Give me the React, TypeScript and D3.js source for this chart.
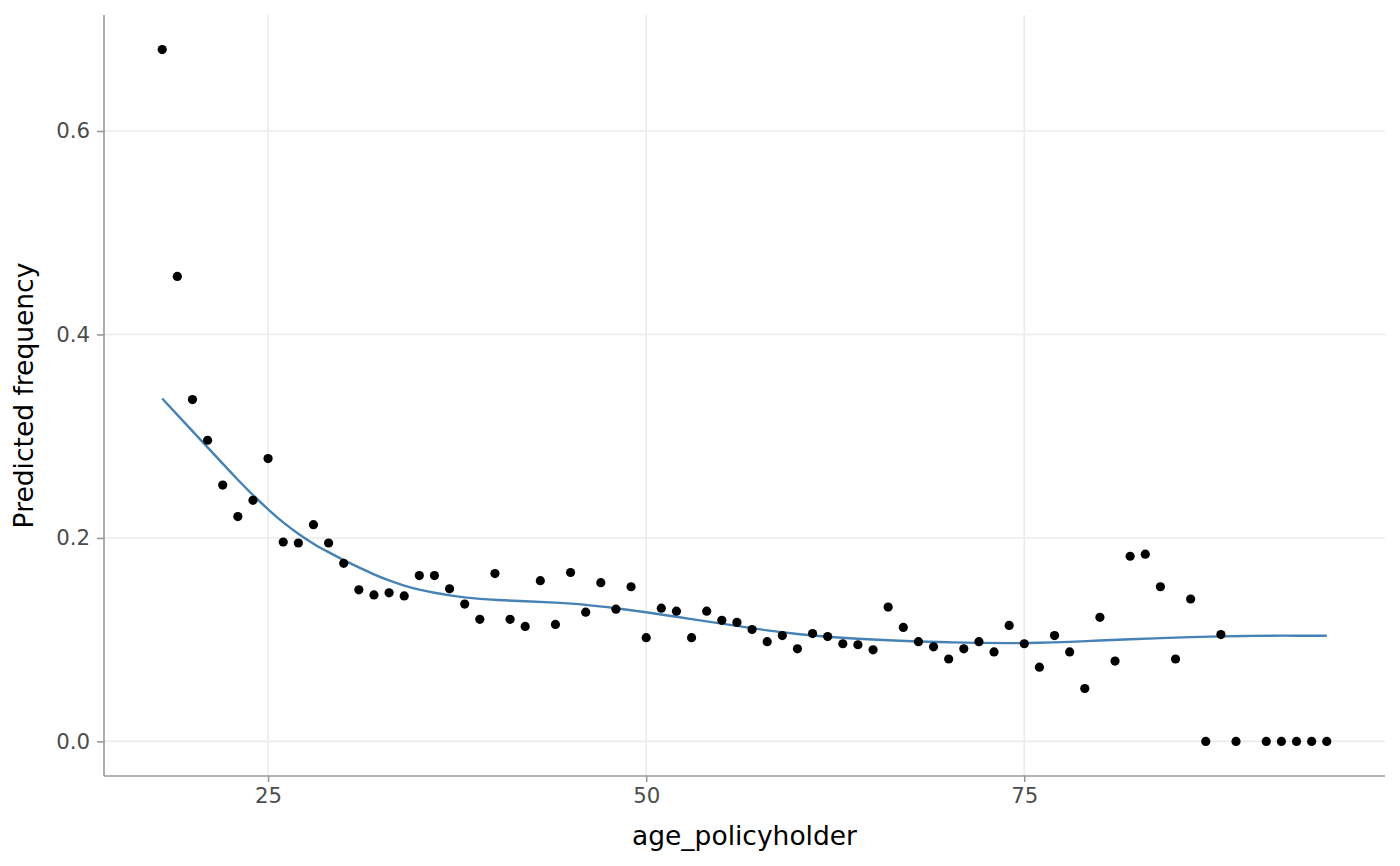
import * as d3 from 'd3';
import { useEffect, useRef } from 'react';

// observed frequency per age
const ages = [
  18, 19, 20, 21, 22, 23, 24, 25, 26, 27, 28, 29, 30, 31, 32, 33, 34, 35, 36, 37,
  38, 39, 40, 41, 42, 43, 44, 45, 46, 47, 48, 49, 50, 51, 52, 53, 54, 55, 56, 57,
  58, 59, 60, 61, 62, 63, 64, 65, 66, 67, 68, 69, 70, 71, 72, 73, 74, 75, 76, 77,
  78, 79, 80, 81, 82, 83, 84, 85, 86, 87, 88, 89, 91, 92, 93, 94, 95,
];
const frequency = [
  0.680, 0.457, 0.336, 0.296, 0.252, 0.221, 0.237, 0.278, 0.196, 0.195, 0.213, 0.195,
  0.175, 0.149, 0.144, 0.146, 0.143, 0.163, 0.163, 0.150, 0.135, 0.120, 0.165, 0.120,
  0.113, 0.158, 0.115, 0.166, 0.127, 0.156, 0.130, 0.152, 0.102, 0.131, 0.128, 0.102,
  0.128, 0.119, 0.117, 0.110, 0.098, 0.104, 0.091, 0.106, 0.103, 0.096, 0.095, 0.090,
  0.132, 0.112, 0.098, 0.093, 0.081, 0.091, 0.098, 0.088, 0.114, 0.096, 0.073, 0.104,
  0.088, 0.052, 0.122, 0.079, 0.182, 0.184, 0.152, 0.081, 0.140, 0, 0.105, 0,
  0, 0, 0, 0, 0,
];

// smoothed fit
const smoothAges = [
  18, 19, 20, 21, 22, 23, 24, 25, 26, 27, 28, 29, 30, 31, 32, 33, 34, 35, 36, 37, 38,
  39, 40, 42, 44, 46, 48, 50, 52, 54, 56, 58, 60, 62, 64, 66, 68, 70, 72, 74, 76, 78,
  80, 82, 84, 86, 88, 90, 92, 95,
];
const smoothFit = [
  0.337, 0.321, 0.305, 0.289, 0.273, 0.257, 0.242, 0.228, 0.215, 0.204, 0.194, 0.186,
  0.178, 0.171, 0.164, 0.158, 0.153, 0.149, 0.146, 0.1435, 0.1415, 0.140, 0.139, 0.1378,
  0.1365, 0.1345, 0.131, 0.127, 0.1225, 0.118, 0.1135, 0.109, 0.1055, 0.1027, 0.1008,
  0.0993, 0.0982, 0.0974, 0.0968, 0.0965, 0.0968, 0.0978, 0.0992, 0.1004, 0.1015, 0.1025,
  0.1033, 0.1038, 0.104, 0.1038,
];

const xTicks = [25, 50, 75];
const yTicks = [0, 0.2, 0.4, 0.6];

const W = 1400;
const H = 866;
const left = 104, right = 1385, top = 15, bottom = 776;

const App = () => {
  const ref = useRef<SVGSVGElement | null>(null);

  useEffect(() => {
    if (!ref.current) return;
    const svg = d3.select(ref.current);
    svg.selectAll('*').remove();

    const xMin = d3.min(ages)!, xMax = d3.max(ages)!;
    const xPad = (xMax - xMin) * 0.05;
    const x = d3.scaleLinear().domain([xMin - xPad, xMax + xPad]).range([left, right]);
    const yMax = d3.max(frequency)!;
    const yPad = yMax * 0.05;
    const y = d3.scaleLinear().domain([-yPad, yMax + yPad]).range([bottom, top]);

    const grid = svg.append('g').attr('stroke', '#EBEBEB').attr('stroke-width', 1.6);
    grid.selectAll('line.gx')
      .data(xTicks)
      .enter().append('line')
      .attr('x1', d => x(d)).attr('x2', d => x(d))
      .attr('y1', top).attr('y2', bottom);
    grid.selectAll('line.gy')
      .data(yTicks)
      .enter().append('line')
      .attr('class', 'gy')
      .attr('y1', d => y(d)).attr('y2', d => y(d))
      .attr('x1', left).attr('x2', right);

    const xAxis = svg.append('g')
      .attr('transform', `translate(0,${bottom})`)
      .call(d3.axisBottom(x).tickValues(xTicks).tickSize(6).tickPadding(6).tickFormat(d3.format('d')));
    const yAxis = svg.append('g')
      .attr('transform', `translate(${left},0)`)
      .call(d3.axisLeft(y).tickValues(yTicks).tickSize(7).tickPadding(7).tickFormat(d3.format('.1f')));

    [xAxis, yAxis].forEach(ax => {
      ax.select('.domain').attr('stroke', '#999999').attr('stroke-width', 1.6);
      ax.selectAll('.tick line').attr('stroke', '#999999').attr('stroke-width', 1.6);
      ax.selectAll('.tick text')
        .attr('fill', '#4D4D4D')
        .style('font-family', 'DejaVu Sans')
        .style('font-size', '21.3px');
    });
    // axis line only across the panel, no outer ticks
    xAxis.select('.domain').attr('d', `M${left},0H${right}`);
    yAxis.select('.domain').attr('d', `M0,${top}V${bottom}`);

    const line = d3.line<number>()
      .x((_, i) => x(smoothAges[i]))
      .y(d => y(d))
      .curve(d3.curveBasis);
    svg.append('path')
      .datum(smoothFit)
      .attr('fill', 'none')
      .attr('stroke', '#4682B4')
      .attr('stroke-width', 2.4)
      .attr('d', line);

    svg.append('g')
      .selectAll('circle')
      .data(frequency)
      .enter().append('circle')
      .attr('cx', (_, i) => x(ages[i]))
      .attr('cy', d => y(d))
      .attr('r', 4.6)
      .attr('fill', '#000000');

    svg.append('text')
      .attr('x', (left + right) / 2)
      .attr('y', 845)
      .attr('text-anchor', 'middle')
      .style('font-family', 'DejaVu Sans')
      .style('font-size', '26.5px')
      .attr('fill', '#000000')
      .text('age_policyholder');

    svg.append('text')
      .attr('transform', `translate(33,${(top + bottom) / 2}) rotate(-90)`)
      .attr('text-anchor', 'middle')
      .style('font-family', 'DejaVu Sans')
      .style('font-size', '26.5px')
      .attr('fill', '#000000')
      .text('Predicted frequency');
  }, []);

  return (
    <svg ref={ref} width={W} height={H}
      style={{ position: 'absolute', left: 0, top: 0, background: '#ffffff' }} />
  );
};

export default App;
